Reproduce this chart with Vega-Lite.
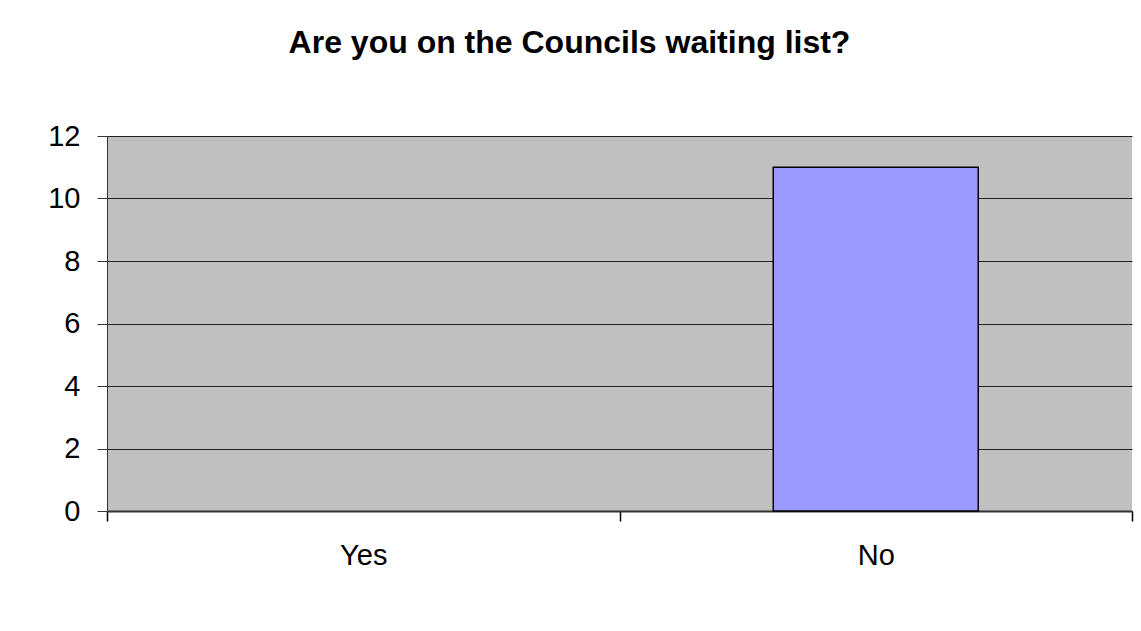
{
  "$schema": "https://vega.github.io/schema/vega-lite/v6.json",
  "autosize": "none",
  "width": 1025,
  "height": 375,
  "padding": {"left": 107, "top": 136, "right": 9, "bottom": 120},
  "background": "white",
  "data": {"values": [
    {"answer": "Yes", "count": 0},
    {"answer": "No", "count": 11}
  ]},
  "title": {
    "text": "Are you on the Councils waiting list?",
    "font": "Liberation Sans",
    "fontSize": 32,
    "fontWeight": "bold",
    "color": "black",
    "anchor": "middle",
    "dx": -50,
    "offset": 62
  },
  "mark": {"type": "bar", "width": {"band": 0.4}, "fill": "#9999FF", "stroke": "black", "strokeWidth": 1.5},
  "encoding": {
    "x": {
      "field": "answer", "type": "nominal", "sort": ["Yes", "No"],
      "scale": {"paddingInner": 0, "paddingOuter": 0},
      "axis": {"title": null, "labelAngle": 0, "labelFont": "Liberation Sans", "labelFontSize": 29, "labelColor": "black",
        "tickBand": "extent", "tickSize": 10, "tickColor": "black", "tickWidth": 1.5, "domainColor": "#333333", "domainWidth": 2, "labelPadding": 20, "grid": false}
    },
    "y": {
      "field": "count", "type": "quantitative",
      "scale": {"domain": [0, 12], "nice": false},
      "axis": {"title": null, "values": [0, 2, 4, 6, 8, 10, 12], "labelFont": "Liberation Sans", "labelFontSize": 29, "labelColor": "black",
        "tickSize": 10, "tickColor": "#333333", "domainColor": "#333333", "labelPadding": 17, "grid": true, "gridColor": "#222222", "gridWidth": 1, "gridOpacity": 1}
    },
    "strokeOpacity": {"condition": {"test": "datum.count > 0", "value": 1}, "value": 0}
  },
  "config": {
    "view": {"fill": "#C0C0C0", "stroke": null}
  }
}
